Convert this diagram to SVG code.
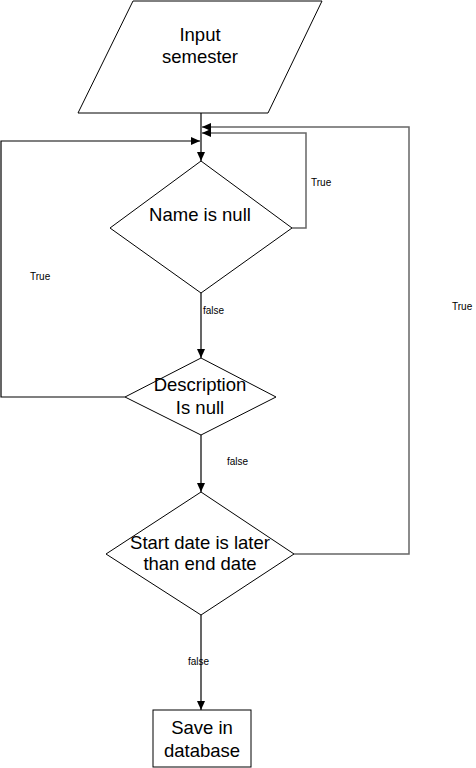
<svg xmlns="http://www.w3.org/2000/svg" width="476" height="768" viewBox="0 0 476 768">
<style>
.shape{fill:#fff;stroke:#000;stroke-width:1}
.t{font-family:"Liberation Sans",Arial,sans-serif;font-size:18.5px;fill:#000;text-anchor:middle}
.l{font-family:"Liberation Sans",Arial,sans-serif;font-size:10px;fill:#000}
.c{fill:none;stroke:#000;stroke-width:1.2}
.g{fill:none;stroke:#666;stroke-width:1.5}
</style>
<defs>
<marker id="ah" markerWidth="9" markerHeight="8" refX="9" refY="4" orient="auto" markerUnits="userSpaceOnUse">
<path d="M0,0 L9,4 L0,8 Z" fill="#000"/>
</marker>
</defs>
<rect width="476" height="768" fill="#fff"/>
<g id="connectors">
<path class="c" d="M201,113 V161" marker-end="url(#ah)"/>
<path class="c" d="M201,293 V358" marker-end="url(#ah)"/>
<path class="c" d="M201,435 V492" marker-end="url(#ah)"/>
<path class="c" d="M201,615 V710" marker-end="url(#ah)"/>
<path class="g" d="M292,228 H306 V133 H202" marker-end="url(#ah)"/>
<path class="c" d="M125,397 H1 V141 H200" marker-end="url(#ah)"/>
<path class="g" d="M294,554 H409 V127 H202" marker-end="url(#ah)"/>
<text class="l" x="311" y="186">True</text>
<text class="l" x="30" y="280">True</text>
<text class="l" x="452" y="310">True</text>
<text class="l" x="203" y="314">false</text>
<text class="l" x="227" y="465">false</text>
<text class="l" x="188" y="665">false</text>
</g>
<g id="input">
<polygon class="shape" points="133,1 322,1 268,113 78,113"/>
<text class="t" x="200" y="41">Input</text>
<text class="t" x="200" y="63">semester</text>
</g>
<g id="name">
<polygon class="shape" points="201,161 292,228 201,293 110,228"/>
<text class="t" x="200" y="221">Name is null</text>
</g>
<g id="description">
<polygon class="shape" points="201,358 276,397 201,435 125,397"/>
<text class="t" x="200" y="391">Description</text>
<text class="t" x="200" y="414">Is null</text>
</g>
<g id="startdate">
<polygon class="shape" points="201,492 294,554 201,615 106,554"/>
<text class="t" x="200" y="549">Start date is later</text>
<text class="t" x="200" y="570">than end date</text>
</g>
<g id="save">
<rect class="shape" x="153" y="710" width="98" height="57"/>
<text class="t" x="202" y="734">Save in</text>
<text class="t" x="202" y="757">database</text>
</g>
</svg>
